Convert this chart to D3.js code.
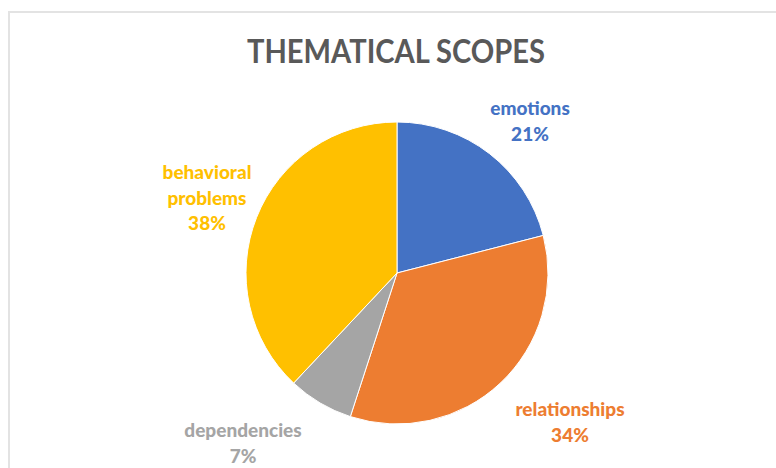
<!DOCTYPE html>
<html><head><meta charset="utf-8">
<script src="https://cdn.jsdelivr.net/npm/d3@7"></script>
<style>body{margin:0;background:#fff;} svg{display:block;}</style>
</head><body>
<svg id="chart" width="776" height="468"></svg>
<script>
const categories = ["emotions", "relationships", "dependencies", "behavioral problems"];
const values = [21, 34, 7, 38];
const colors = ["#4472c4", "#ed7d31", "#a5a5a5", "#ffc000"];
const labelLines = [["emotions", "21%"], ["relationships", "34%"], ["dependencies", "7%"], ["behavioral", "problems", "38%"]];
const labelPos = [[530, 115], [570, 416], [243, 437], [207, 179]];
const title = "THEMATICAL SCOPES";

const svg = d3.select("#chart");
// frame
svg.append("rect").attr("x", 9).attr("y", 12).attr("width", 780).attr("height", 470)
  .attr("fill", "none").attr("stroke", "#e3e3e3").attr("stroke-width", 2);

svg.append("text").attr("x", 396).attr("y", 63).attr("text-anchor", "middle")
  .attr("font-family", "Lato, 'Open Sans', sans-serif").attr("font-weight", "bold")
  .attr("font-size", 32).attr("fill", "#595959")
  .attr("textLength", 298).attr("lengthAdjust", "spacingAndGlyphs").text(title);

const cx = 397, cy = 273, r = 151;
const pie = d3.pie().sort(null).value(d => d)(values);
const arc = d3.arc().innerRadius(0).outerRadius(r);
const g = svg.append("g").attr("transform", `translate(${cx},${cy})`);
g.selectAll("path").data(pie).join("path")
  .attr("d", arc).attr("fill", (d, i) => colors[i])
  .attr("stroke", "#fff").attr("stroke-width", 1);

categories.forEach((c, i) => {
  const t = svg.append("text").attr("text-anchor", "middle")
    .attr("font-family", "Lato, 'Open Sans', sans-serif").attr("font-weight", 900)
    .attr("font-size", 19).attr("fill", colors[i]);
  labelLines[i].forEach((ln, j) => {
    t.append("tspan").attr("x", labelPos[i][0]).attr("y", labelPos[i][1] + j * 25.5).text(ln);
  });
});
</script>
</body></html>
